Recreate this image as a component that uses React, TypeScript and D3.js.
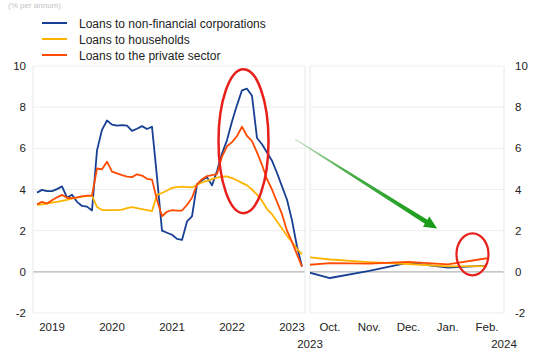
import React from 'react';
import * as d3 from 'd3';

// Left panel: monthly, Apr 2019 – Sep 2023 (annual growth, %)
const leftMonths: Date[] = d3.timeMonth.range(new Date(2019, 3, 1), new Date(2023, 9, 1));
const nfcLeft = [
  3.85, 3.98, 3.92, 3.92, 4.02, 4.15, 3.6, 3.75, 3.4, 3.2, 3.17, 2.98,
  5.9, 6.9, 7.35, 7.15, 7.1, 7.13, 7.1, 6.85, 6.95, 7.08, 6.94, 7.05,
  4.6, 2.0, 1.9, 1.8, 1.6, 1.55, 2.45, 2.7, 4.25, 4.45, 4.6, 4.2,
  4.9, 5.75, 6.4, 7.3, 8.1, 8.82, 8.9, 8.55, 6.5, 6.2, 5.8, 5.4,
  4.8, 4.15, 3.5, 2.5, 1.23, 0.26,
];
const hhLeft = [
  3.25, 3.28, 3.32, 3.36, 3.4, 3.45, 3.5, 3.56, 3.6, 3.65, 3.68, 3.7,
  3.15, 3.0, 3.0, 3.0, 3.0, 3.02, 3.1, 3.14, 3.1, 3.05, 3.0, 2.95,
  3.74, 3.83, 3.95, 4.08, 4.12, 4.14, 4.12, 4.1, 4.22, 4.34, 4.42, 4.5,
  4.58, 4.63, 4.64, 4.55, 4.45, 4.32, 4.2, 4.0, 3.75, 3.45, 3.05, 2.8,
  2.45, 2.1, 1.75, 1.45, 1.12, 0.85,
];
const pvtLeft = [
  3.28, 3.4, 3.32, 3.48, 3.62, 3.74, 3.6, 3.58, 3.62, 3.67, 3.7, 3.7,
  5.02, 4.98, 5.35, 4.87, 4.78, 4.7, 4.63, 4.6, 4.74, 4.68, 4.52, 4.48,
  3.5, 2.7, 2.92, 3.0, 2.97, 2.98, 3.25, 3.6, 4.25, 4.5, 4.65, 4.7,
  4.75, 5.6, 6.1, 6.3, 6.6, 7.05, 6.6, 6.35, 5.8, 5.2, 4.5, 4.0,
  3.4, 2.8, 2.0, 1.45, 0.85, 0.25,
];

// Right panel: monthly, Sep 2023 – Feb 2024
const rightMonths = ['Sep.', 'Oct.', 'Nov.', 'Dec.', 'Jan.', 'Feb.'];
const nfcRight = [0.2, -0.3, 0.05, 0.45, 0.2, 0.3];
const hhRight = [0.8, 0.6, 0.47, 0.38, 0.27, 0.28];
const pvtRight = [0.27, 0.42, 0.4, 0.48, 0.36, 0.66];

const yTicks = [-2, 0, 2, 4, 6, 8, 10];
const yearLabels = ['2019', '2020', '2021', '2022', '2023'];
const rightYearLabels = ['2023', '2024'];

const series = [
  { name: 'Loans to non-financial corporations', color: '#173f94', left: nfcLeft, right: nfcRight },
  { name: 'Loans to households', color: '#ffb400', left: hhLeft, right: hhRight },
  { name: 'Loans to the private sector', color: '#ff4b00', left: pvtLeft, right: pvtRight },
];

const FONT = '"Liberation Sans", Arial, Helvetica, sans-serif';

export default function App() {
  const W = 554, H = 355;
  const leftFrame = [33, 305];
  const rightFrame = [310, 504];
  const y = d3.scaleLinear().domain([-2, 10]).range([313, 66]);
  const xL = d3.scaleLinear().domain([0, leftMonths.length - 1]).range([37, 302]);
  const xR = d3.scaleLinear().domain([0, rightMonths.length - 1]).range([290.7, 487]);

  const lineL = (vals: number[]) =>
    d3.line<number>().x((_, i) => xL(i)).y((d) => y(d))(vals) || '';
  const lineR = (vals: number[]) =>
    d3.line<number>().x((_, i) => xR(i)).y((d) => y(d))(vals) || '';

  // arrow geometry (annotation)
  const ax0 = xL(51.6), ay0 = y(6.45);
  const ax1 = xR(3.73), ay1 = y(2.1);
  const dx = ax1 - ax0, dy = ay1 - ay0;
  const len = Math.hypot(dx, dy);
  const ux = dx / len, uy = dy / len;
  const px = -uy, py = ux;
  const headLen = 13, headW = 6;
  const bx = ax1 - ux * headLen, by = ay1 - uy * headLen;
  const w0 = 0.4, w1 = 2.4;
  const shaft = [
    [ax0 + px * w0, ay0 + py * w0],
    [bx + px * w1, by + py * w1],
    [bx + px * headW, by + py * headW],
    [ax1, ay1],
    [bx - px * headW, by - py * headW],
    [bx - px * w1, by - py * w1],
    [ax0 - px * w0, ay0 - py * w0],
  ].map((p) => p.join(',')).join(' ');

  const yearIdx = yearLabels.map((yr) =>
    leftMonths.findIndex((m) => m.getFullYear() === +yr && m.getMonth() === 6)
  );

  return (
    <svg width={W} height={H} style={{ position: 'absolute', left: 0, top: 0, background: '#fff' }} fontFamily={FONT}>
      <defs>
        <clipPath id="clipR">
          <rect x={rightFrame[0]} y={60} width={rightFrame[1] - rightFrame[0]} height={260} />
        </clipPath>
        <linearGradient id="arrowGrad" gradientUnits="userSpaceOnUse" x1={ax0} y1={ay0} x2={ax1} y2={ay1}>
          <stop offset="0" stopColor="#b9dfb9" />
          <stop offset="0.35" stopColor="#4cae4c" />
          <stop offset="1" stopColor="#159a15" />
        </linearGradient>
      </defs>

      {/* title (faint, at top edge) */}
      <text x={8} y={8} fontSize={8} fill="#c4c4c4">(% per annum)</text>

      {/* legend */}
      {series.map((s, i) => (
        <g key={s.name}>
          <line x1={42} x2={67} y1={23 + i * 16} y2={23 + i * 16} stroke={s.color} strokeWidth={2} />
          <text x={79} y={27.5 + i * 16} fontSize={12} fill="#222">{s.name}</text>
        </g>
      ))}

      {/* grids */}
      {[leftFrame, rightFrame].map((f, j) => (
        <g key={j}>
          {yTicks.map((t) => (
            <line key={t} x1={f[0]} x2={f[1]} y1={y(t)} y2={y(t)} stroke={t === 0 ? '#b5b5b5' : '#eeeeee'} strokeWidth={t === 0 ? 1.2 : 1} />
          ))}
          <line x1={f[0]} x2={f[0]} y1={y(10)} y2={y(-2)} stroke="#e8e8e8" />
          <line x1={f[1]} x2={f[1]} y1={y(10)} y2={y(-2)} stroke="#e8e8e8" />
        </g>
      ))}

      {/* y labels */}
      {yTicks.map((t) => (
        <g key={t} fontSize={11.5} fill="#222">
          <text x={26} y={y(t) + 4} textAnchor="end">{t}</text>
          <text x={515} y={y(t) + 4} textAnchor="start">{t}</text>
        </g>
      ))}

      {/* x labels */}
      {yearLabels.map((yr, i) => (
        <text key={yr} x={xL(yearIdx[i])} y={331} fontSize={11.5} fill="#222" textAnchor="middle">{yr}</text>
      ))}
      {rightMonths.slice(1).map((m, i) => (
        <text key={m} x={xR(i + 1)} y={331} fontSize={11.5} fill="#222" textAnchor="middle">{m}</text>
      ))}
      {rightYearLabels.map((yr, i) => (
        <text key={yr} x={rightFrame[i]} y={348} fontSize={11.5} fill="#222" textAnchor="middle">{yr}</text>
      ))}

      {/* lines */}
      {series.map((s) => (
        <path key={s.name} d={lineL(s.left)} fill="none" stroke={s.color} strokeWidth={1.8} strokeLinejoin="round" />
      ))}
      <g clipPath="url(#clipR)">
        {series.map((s) => (
          <path key={s.name} d={lineR(s.right)} fill="none" stroke={s.color} strokeWidth={1.8} strokeLinejoin="round" />
        ))}
      </g>

      {/* annotations */}
      <ellipse cx={xL(41.3)} cy={y(6.35)} rx={25} ry={72} fill="none" stroke="#e8201b" strokeWidth={2.5} />
      <ellipse cx={xR(4.63)} cy={y(0.85)} rx={16} ry={21} fill="none" stroke="#e8201b" strokeWidth={2.2} />
      <polygon points={shaft} fill="url(#arrowGrad)" />
    </svg>
  );
}
